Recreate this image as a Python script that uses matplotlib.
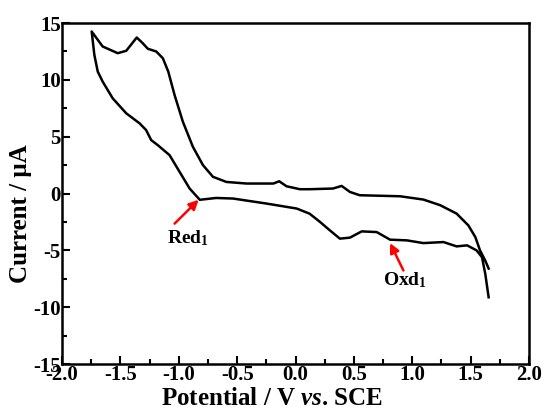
import matplotlib
matplotlib.use('Agg')
import matplotlib.pyplot as plt
from matplotlib.ticker import MultipleLocator

plt.rcParams['font.family'] = 'Liberation Serif'
plt.rcParams['font.weight'] = 'bold'
plt.rcParams['axes.labelweight'] = 'bold'
plt.rcParams['axes.unicode_minus'] = False
plt.rcParams['mathtext.fontset'] = 'custom'
plt.rcParams['mathtext.rm'] = 'Liberation Serif:bold'
plt.rcParams['mathtext.it'] = 'Liberation Serif:italic:bold'
plt.rcParams['mathtext.default'] = 'regular'

# upper (return) branch, read right to left, ending at the vertex
upper_x = [1.654, 1.625, 1.58, 1.54, 1.48, 1.38, 1.24, 1.095, 0.895, 0.55, 0.466,
           0.395, 0.32, 0.12, 0.037, -0.077, -0.14, -0.19, -0.42, -0.592, -0.707,
           -0.793, -0.879, -0.965, -1.036, -1.09, -1.136, -1.193, -1.265, -1.31,
           -1.36, -1.45, -1.523, -1.652, -1.746]
upper_y = [-6.6, -5.9, -5.0, -3.83, -2.8, -1.77, -1.03, -0.53, -0.24, -0.15, 0.14,
           0.67, 0.44, 0.38, 0.38, 0.64, 1.08, 0.88, 0.88, 1.02, 1.47,
           2.5, 4.11, 6.32, 8.67, 10.73, 11.9, 12.5, 12.74, 13.24,
           13.73, 12.56, 12.35, 12.94, 14.26]

# lower (forward) branch, from the vertex to the right end
lower_x = [-1.723, -1.694, -1.652, -1.566, -1.45, -1.336, -1.28, -1.236, -1.18,
           -1.079, -0.993, -0.907, -0.82, -0.68, -0.535, -0.25, 0.01, 0.12, 0.21,
           0.294, 0.38, 0.466, 0.567, 0.695, 0.81, 0.953, 1.095, 1.267, 1.38,
           1.47, 1.55, 1.597, 1.625, 1.654]
lower_y = [12.2, 10.73, 9.85, 8.38, 7.06, 6.18, 5.59, 4.7, 4.26,
           3.38, 1.91, 0.44, -0.55, -0.39, -0.44, -0.88, -1.32, -1.77, -2.5,
           -3.24, -3.97, -3.88, -3.33, -3.39, -4.06, -4.12, -4.36, -4.27, -4.65,
           -4.56, -5.0, -5.6, -7.06, -9.13]

potential = upper_x + lower_x
current = upper_y + lower_y

# peak labels: text position, arrow tail, arrow head
peaks = ['Red$_1$', 'Oxd$_1$']
text_xy = [(-0.92, -3.95), (0.94, -7.6)]
tail_xy = [(-1.036, -2.65), (0.924, -6.77)]
head_xy = [(-0.83, -0.55), (0.81, -4.36)]

fig = plt.figure(figsize=(5.44, 4.12), dpi=100)
ax = fig.add_axes([0.114, 0.1165, 0.8585, 0.8275])
ax.plot(potential, current, color='black', lw=1.8, solid_joinstyle='round')

ax.set_xlim(-2.0, 2.0)
ax.set_ylim(-15, 15)
ax.xaxis.set_major_locator(MultipleLocator(0.5))
ax.xaxis.set_minor_locator(MultipleLocator(0.25))
ax.yaxis.set_major_locator(MultipleLocator(5))
ax.yaxis.set_minor_locator(MultipleLocator(2.5))
ax.set_xticks(ax.get_xticks())
ax.set_xticklabels(['%.1f' % v for v in ax.get_xticks()])
ax.set_xlim(-2.0, 2.0)
ax.tick_params(which='both', direction='in', top=False, right=False,
               labelsize=15, width=1.5)
ax.tick_params(which='major', length=6, pad=1)
ax.tick_params(which='minor', length=3.5)
for lab in ax.get_xticklabels() + ax.get_yticklabels():
    lab.set_fontweight('bold')
for s in ax.spines.values():
    s.set_linewidth(1.8)

ax.set_xlabel('Potential / V $\\mathit{vs}$. SCE', fontsize=18)
ax.set_ylabel('Current / μA', fontsize=18)
ax.xaxis.set_label_coords(0.45, -0.068)
ax.yaxis.set_label_coords(-0.064, 0.44)

for name, t, a, h in zip(peaks, text_xy, tail_xy, head_xy):
    ax.annotate('', xy=h, xytext=a,
                arrowprops=dict(arrowstyle='-|>', color='red', lw=1.8,
                                mutation_scale=14, shrinkA=0, shrinkB=0))
    ax.text(t[0], t[1], name, fontsize=14, fontweight='bold',
            ha='center', va='center')

fig.savefig('out.png', dpi=100)
